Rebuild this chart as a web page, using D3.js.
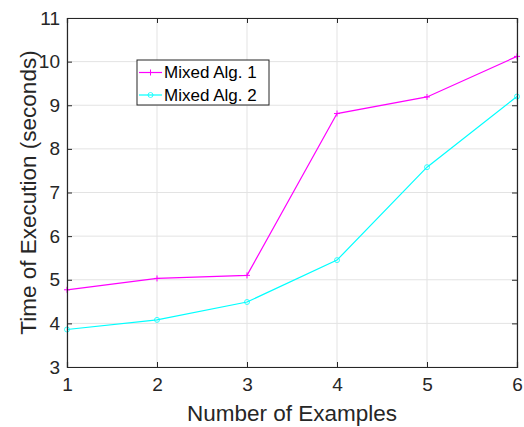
<!DOCTYPE html>
<html>
<head>
<meta charset="utf-8">
<script src="https://cdn.jsdelivr.net/npm/d3@7"></script>
<style>
  body { margin: 0; background: #fff; }
  svg { font-family: "Liberation Sans", Arial, sans-serif; }
</style>
</head>
<body>
<svg id="chart" width="524" height="427"></svg>
<script>
  // Data
  const examples = [1, 2, 3, 4, 5, 6];
  const alg1 = [4.77, 5.03, 5.10, 8.81, 9.19, 10.12];
  const alg2 = [3.86, 4.08, 4.49, 5.45, 7.58, 9.20];
  const yTicks = [3, 4, 5, 6, 7, 8, 9, 10, 11];
  const seriesNames = ['Mixed Alg. 1', 'Mixed Alg. 2'];

  const svg = d3.select('#chart');
  const margin = { left: 67, right: 7, top: 18, bottom: 60 };
  const width = 524, height = 427;

  const x = d3.scaleLinear().domain([1, 6]).range([margin.left, width - margin.right]);
  const y = d3.scaleLinear().domain([3, 11]).range([height - margin.bottom, margin.top]);

  // Grid
  const grid = svg.append('g').attr('stroke', '#e3e3e3').attr('stroke-width', 1);
  grid.selectAll('.gx').data(examples).enter().append('line')
    .attr('x1', d => x(d)).attr('x2', d => x(d))
    .attr('y1', y(3)).attr('y2', y(11));
  grid.selectAll('.gy').data(yTicks).enter().append('line')
    .attr('y1', d => y(d)).attr('y2', d => y(d))
    .attr('x1', x(1)).attr('x2', x(6));

  // Series
  const line = d3.line().x((d, i) => x(examples[i])).y(d => y(d));
  const series = [
    { name: seriesNames[0], values: alg1, color: '#ff00ff', marker: 'plus' },
    { name: seriesNames[1], values: alg2, color: '#00ffff', marker: 'circle' }
  ];

  function drawMarker(g, type, cx, cy, color) {
    if (type === 'plus') {
      g.append('path')
        .attr('d', `M${cx - 3},${cy}H${cx + 3}M${cx},${cy - 3}V${cy + 3}`)
        .attr('stroke', color).attr('stroke-width', 1).attr('fill', 'none');
    } else {
      g.append('circle').attr('cx', cx).attr('cy', cy).attr('r', 2.5)
        .attr('stroke', color).attr('stroke-width', 0.8).attr('fill', 'none');
    }
  }

  series.forEach(s => {
    svg.append('path').datum(s.values)
      .attr('d', line)
      .attr('fill', 'none')
      .attr('stroke', s.color)
      .attr('stroke-width', 1.2);
    const mg = svg.append('g');
    s.values.forEach((v, i) => drawMarker(mg, s.marker, x(examples[i]), y(v), s.color));
  });

  // Axes box (MATLAB style, ticks inward)
  const axisColor = '#262626';
  const xAxisB = d3.axisBottom(x).tickValues(examples).tickSize(-5).tickPadding(11).tickFormat(d3.format('d'));
  const xAxisT = d3.axisTop(x).tickValues(examples).tickSize(-5).tickFormat('');
  const yAxisL = d3.axisLeft(y).tickValues(yTicks).tickSize(-5).tickPadding(7).tickFormat(d3.format('d'));
  const yAxisR = d3.axisRight(y).tickValues(yTicks).tickSize(-5).tickFormat('');

  const gB = svg.append('g').attr('transform', `translate(0,${y(3)})`).call(xAxisB);
  const gT = svg.append('g').attr('transform', `translate(0,${y(11)})`).call(xAxisT);
  const gL = svg.append('g').attr('transform', `translate(${x(1)},0)`).call(yAxisL);
  const gR = svg.append('g').attr('transform', `translate(${x(6)},0)`).call(yAxisR);

  [gB, gT, gL, gR].forEach(g => {
    g.select('.domain').attr('stroke', axisColor).attr('stroke-width', 1.2);
    g.selectAll('.tick line').attr('stroke', axisColor);
    g.selectAll('.tick text').attr('fill', '#262626').attr('font-size', 19)
      .attr('font-family', '"Liberation Sans", Arial, sans-serif');
  });

  // Axis labels
  svg.append('text')
    .attr('x', (x(1) + x(6)) / 2).attr('y', 421)
    .attr('text-anchor', 'middle').attr('font-size', 22.5).attr('fill', '#262626')
    .text('Number of Examples');
  svg.append('text')
    .attr('transform', `translate(36,${(y(3) + y(11)) / 2}) rotate(-90)`)
    .attr('text-anchor', 'middle').attr('font-size', 22.5).attr('fill', '#262626')
    .text('Time of Execution (seconds)');

  // Legend
  const lg = svg.append('g').attr('transform', 'translate(137,60)');
  lg.append('rect').attr('width', 132).attr('height', 45)
    .attr('fill', '#fff').attr('stroke', '#262626').attr('stroke-width', 1);
  series.forEach((s, i) => {
    const cy = 12.5 + i * 22.5;
    lg.append('line').attr('x1', 2).attr('x2', 25).attr('y1', cy).attr('y2', cy)
      .attr('stroke', s.color).attr('stroke-width', 1.2);
    drawMarker(lg, s.marker, 13.5, cy, s.color);
    lg.append('text').attr('x', 27).attr('y', cy).attr('dy', '0.35em')
      .attr('font-size', 17).attr('fill', '#000').text(s.name);
  });
</script>
</body>
</html>
